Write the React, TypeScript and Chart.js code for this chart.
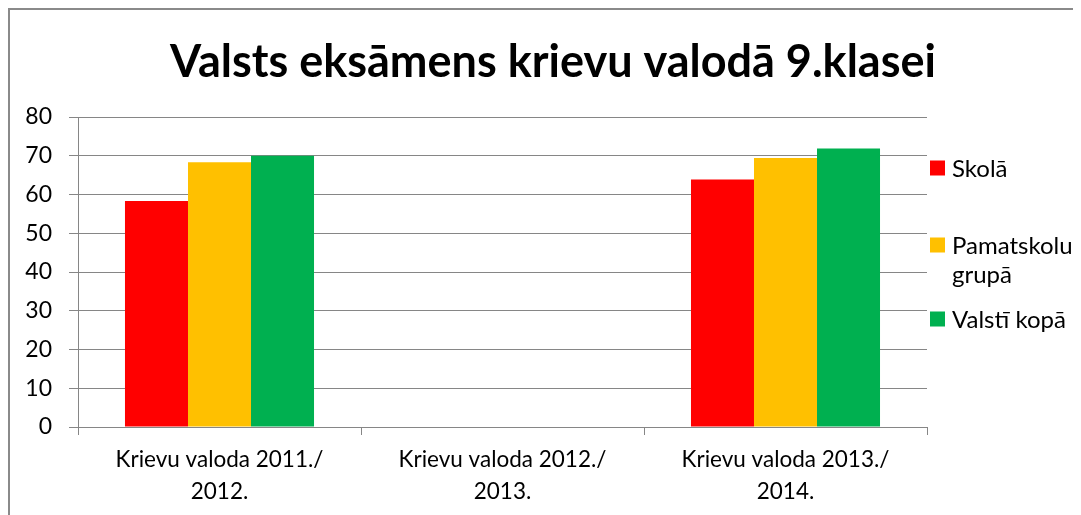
import React, { useEffect, useRef } from "react";
import { Chart, registerables } from "chart.js";

Chart.register(...registerables);

const titleText = "Valsts eksāmens krievu valodā 9.klasei";
const categories: string[][] = [
  ["Krievu valoda 2011./", "2012."],
  ["Krievu valoda 2012./", "2013."],
  ["Krievu valoda 2013./", "2014."],
];
const seriesNames = ["Skolā", "Pamatskolu grupā", "Valstī kopā"];
const seriesColors = ["#FF0000", "#FFC000", "#00B050"];
const skolaValues: (number | null)[] = [58.3, null, 63.9];
const grupaValues: (number | null)[] = [68.3, null, 69.4];
const valstiValues: (number | null)[] = [70.0, null, 71.9];
const yMin = 0;
const yMax = 80;
const yStep = 10;

const FONT = "Lato, 'Open Sans', sans-serif";
const GRID = "#868686";

const sideLegend = {
  id: "sideLegend",
  afterDraw(chart: any, _args: any, opts: any) {
    const { ctx, chartArea } = chart;
    ctx.save();
    ctx.font = `${opts.size}px ${FONT}`;
    ctx.textBaseline = "middle";
    ctx.textAlign = "left";
    const boxX = chartArea.right + opts.boxGap;
    const textX = boxX + opts.box + opts.textGap;
    const maxW = chart.width - textX - 2;
    chart.data.datasets.forEach((ds: any, i: number) => {
      const words = String(ds.label).split(" ");
      const lines: string[] = [];
      let cur = "";
      words.forEach((w) => {
        const test = cur ? cur + " " + w : w;
        if (cur && ctx.measureText(test).width > maxW) {
          lines.push(cur);
          cur = w;
        } else cur = test;
      });
      if (cur) lines.push(cur);
      const cy = chartArea.top + opts.offsets[i];
      ctx.fillStyle = ds.backgroundColor;
      ctx.fillRect(boxX, cy - opts.box / 2 - 1, opts.box, opts.box);
      ctx.fillStyle = "#000";
      lines.forEach((ln, j) => ctx.fillText(ln, textX, cy + j * opts.lineHeight));
    });
    ctx.restore();
  },
};

export default function App() {
  const ref = useRef<HTMLCanvasElement | null>(null);
  useEffect(() => {
    if (!ref.current) return;
    const values = [skolaValues, grupaValues, valstiValues];
    const chart = new Chart(ref.current, {
      type: "bar",
      data: {
        labels: categories,
        datasets: seriesNames.map((name, i) => ({
          label: name,
          data: values[i],
          backgroundColor: seriesColors[i],
          borderWidth: 0,
          barPercentage: 1,
          categoryPercentage: 0.668,
          yAxisID: "y",
        })),
      },
      options: {
        responsive: false,
        animation: false,
        layout: { padding: { left: 15, right: 0, top: 0, bottom: 3 } },
        plugins: {
          legend: { display: false },
          tooltip: { enabled: false },
          title: {
            display: true,
            text: titleText,
            color: "#000",
            font: { family: FONT, size: 45, weight: "bold", lineHeight: 1.2 },
            padding: { top: 25, bottom: 28 },
          },
          sideLegend: { size: 24, box: 15, boxGap: 3, textGap: 7, lineHeight: 29, offsets: [52, 129, 203] },
        } as any,
        scales: {
          x: {
            grid: { display: true, drawOnChartArea: false, drawTicks: true, tickLength: 8, color: GRID, offset: true },
            border: { display: true, color: GRID },
            ticks: {
              color: "#000",
              font: { family: FONT, size: 22.5, lineHeight: 1.4 },
              padding: 9,
              maxRotation: 0,
              autoSkip: false,
            },
            afterFit(scale: any) {
              scale.paddingLeft = 0;
              scale.paddingRight = 0;
            },
          },
          y: {
            min: yMin,
            max: yMax,
            grid: { color: GRID, drawTicks: true, tickLength: 9 },
            border: { display: true, color: GRID },
            ticks: {
              stepSize: yStep,
              color: "#000",
              font: { family: FONT, size: 23 },
              padding: 17,
            },
            afterFit(scale: any) {
              scale.width = 53;
            },
          },
          yR: {
            position: "right",
            display: true,
            grid: { display: false, drawTicks: false },
            border: { display: false },
            ticks: { display: false },
            afterFit(scale: any) {
              scale.width = 154;
            },
          },
        },
      },
      plugins: [sideLegend],
    });
    return () => chart.destroy();
  }, []);
  return (
    <div
      style={{
        width: 1071,
        height: 514,
        borderTop: "2px solid #8a8a8a",
        borderLeft: "2px solid #8a8a8a",
        background: "#fff",
      }}
    >
      <canvas ref={ref} width={1071} height={509} style={{ display: "block" }} />
    </div>
  );
}
